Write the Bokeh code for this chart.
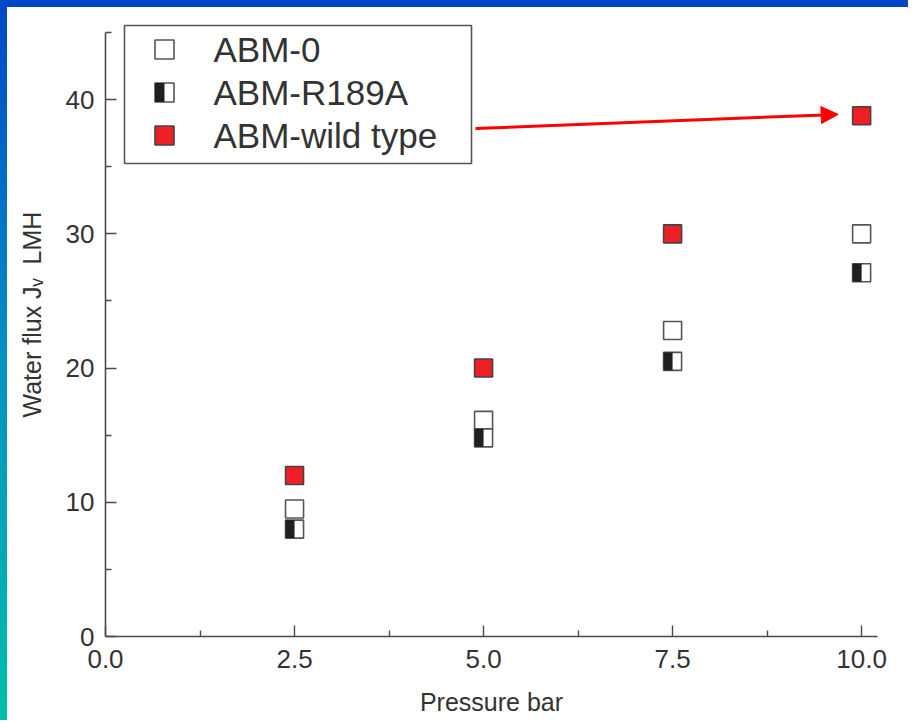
from bokeh.plotting import figure
from bokeh.models import (Range1d, FixedTicker, PrintfTickFormatter, Label,
                          BoxAnnotation, Arrow, NormalHead, ColumnDataSource, Div)
from bokeh.layouts import column, row
from bokeh.transform import dodge
from bokeh.embed import file_html
from bokeh.resources import INLINE

# ---- data ----
pressure = [2.5, 5.0, 7.5, 10.0]
abm0 = [9.5, 16.1, 22.8, 30.0]
abm_r189a = [8.0, 14.8, 20.5, 27.1]
abm_wild = [12.0, 20.0, 30.0, 38.8]
series_names = ["ABM-0", "ABM-R189A", "ABM-wild type"]
x_ticks = [0.0, 2.5, 5.0, 7.5, 10.0]
x_minor = [1.25, 3.75, 6.25, 8.75]
y_ticks = [0, 10, 20, 30, 40]
y_minor = [5, 15, 25, 35, 45]

FONT = "Liberation Sans"
TXT = "#333333"
AX = "#4a4a4a"
RED = "#ee2026"
BLK = "#231f20"

W, H = 901, 713
BL, BR, BT, BB = 98, 31, 13, 84
XMAX = 10.21
YMAX_AXIS = 45
px_per_y = 13.42
YTOP = YMAX_AXIS + (32 - 20) / px_per_y

p = figure(width=W, height=H, output_backend="svg", toolbar_location=None,
           x_range=Range1d(0, XMAX), y_range=Range1d(0, YTOP),
           min_border_left=BL, min_border_right=BR, min_border_top=BT,
           min_border_bottom=BB, margin=0)
p.xgrid.visible = False
p.ygrid.visible = False
p.outline_line_color = None
p.background_fill_color = "white"
p.border_fill_color = "white"

for ax in (p.xaxis[0], p.yaxis[0]):
    ax.axis_line_color = AX
    ax.axis_line_width = 1.6
    ax.major_tick_line_color = AX
    ax.minor_tick_line_color = AX
    ax.major_tick_line_width = 1.4
    ax.minor_tick_line_width = 1.4
    ax.major_tick_in = 11
    ax.major_tick_out = 0
    ax.minor_tick_in = 6
    ax.minor_tick_out = 0
    ax.major_label_text_font = FONT
    ax.major_label_text_font_size = "26px"
    ax.major_label_text_color = TXT
    ax.axis_label_text_font = FONT
    ax.axis_label_text_font_size = "25px"
    ax.axis_label_text_font_style = "normal"
    ax.axis_label_text_color = TXT

p.xaxis[0].ticker = FixedTicker(ticks=x_ticks, minor_ticks=x_minor)
p.xaxis[0].formatter = PrintfTickFormatter(format="%.1f")
p.xaxis[0].major_label_standoff = 13
p.xaxis[0].axis_label = "Pressure bar"
p.xaxis[0].axis_label_standoff = 17

p.yaxis[0].ticker = FixedTicker(ticks=y_ticks, minor_ticks=y_minor)
p.yaxis[0].bounds = (0, YMAX_AXIS)
p.yaxis[0].major_label_standoff = 11
p.yaxis[0].axis_label = "\u00a0\u00a0\u00a0\u00a0Water flux J\u1d65\u00a0 LMH"
p.yaxis[0].axis_label_standoff = 17

# ---- data marks ----
src = ColumnDataSource(dict(x=pressure, a0=abm0, r=abm_r189a, w=abm_wild))
MS = 18
p.scatter("x", "a0", source=src, marker="square", size=MS,
          fill_color="white", line_color="#555555", line_width=1.6)
p.scatter("x", "r", source=src, marker="square", size=MS,
          fill_color="white", line_color="#555555", line_width=1.6)
px_per_x = (W - BL - BR) / XMAX
p.rect(dodge("x", -(MS / 4.0) / px_per_x, range=p.x_range), "r", source=src,
       width=MS / 2.0, height=MS, width_units="screen", height_units="screen",
       fill_color=BLK, line_color=None)
p.scatter("x", "w", source=src, marker="square", size=MS,
          fill_color=RED, line_color="#444444", line_width=1.6)

# ---- arrow ----
p.add_layout(Arrow(end=NormalHead(size=17, fill_color="red", line_color="red", line_width=1),
                   x_start=4.893, y_start=37.85, x_end=9.69, y_end=38.9,
                   line_color="red", line_width=3))

# ---- legend (manual, screen units relative to frame) ----
def sbox(l, r, b, t, **kw):
    return BoxAnnotation(left=l, right=r, bottom=b, top=t,
                         left_units="screen", right_units="screen",
                         bottom_units="screen", top_units="screen", **kw)

p.add_layout(sbox(19, 366, 473, 611, fill_color="white", fill_alpha=1,
                  line_color="#555555", line_width=1.6, line_alpha=1))
rows = [587, 544, 501]
sw_x = 59
h = 9.5
p.add_layout(sbox(sw_x - h, sw_x + h, rows[0] - h, rows[0] + h, fill_color="white",
                  fill_alpha=1, line_color="#555555", line_width=1.6, line_alpha=1))
p.add_layout(sbox(sw_x - h, sw_x + h, rows[1] - h, rows[1] + h, fill_color="white",
                  fill_alpha=1, line_color="#555555", line_width=1.6, line_alpha=1))
p.add_layout(sbox(sw_x - h, sw_x, rows[1] - h, rows[1] + h, fill_color=BLK,
                  fill_alpha=1, line_color=None))
p.add_layout(sbox(sw_x - h, sw_x + h, rows[2] - h, rows[2] + h, fill_color=RED,
                  fill_alpha=1, line_color="#444444", line_width=1.6, line_alpha=1))
for name, yy in zip(series_names, rows):
    p.add_layout(Label(x=108, y=yy, x_units="screen", y_units="screen", text=name,
                       text_font=FONT, text_font_size="35px", text_color=TXT,
                       text_baseline="middle", text_align="left"))

# ---- slide frame (blue bands) ----
top_band = Div(text="", width=W + 7, height=7, margin=0,
               styles={"background": "#0047c5"})
left_band = Div(text="", width=7, height=H, margin=0,
                styles={"background": "linear-gradient(to bottom, #0049c6, #0092c2 50%, #00bfa8)"})

layout = column(top_band, row(left_band, p, spacing=0), spacing=0)

open("out.html", "w").write(file_html(layout, INLINE))
